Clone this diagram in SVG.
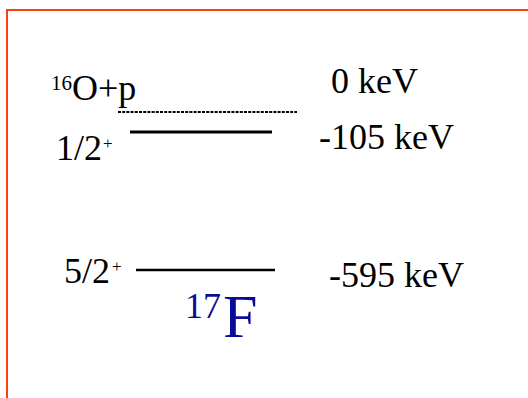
<svg xmlns="http://www.w3.org/2000/svg" width="528" height="398" viewBox="0 0 528 398" font-family="'Liberation Serif', 'Times New Roman', serif">
<style>
text{font-family:'Liberation Serif','Times New Roman',serif;fill:#000;font-size:36px}
.sup{font-size:21px}
.sm{font-size:17px}
.blue{fill:#0b0b99}
.lvl{stroke:#000;fill:none}
</style>
<rect x="0" y="0" width="528" height="398" fill="#fff"/>
<path d="M7,398 V10 H528" fill="none" stroke="#ff3d0d" stroke-width="2"/>
<g id="connectors">
<line class="lvl" x1="118" y1="112" x2="297" y2="112" stroke-width="2" stroke-dasharray="3 1.2"/>
<line class="lvl" x1="130" y1="132" x2="272" y2="132" stroke-width="3"/>
<line class="lvl" x1="136" y1="270" x2="275" y2="270" stroke-width="2.4"/>
</g>
<g id="threshold">
<text class="sup" x="51" y="90">16</text>
<text x="72" y="100">O+p</text>
<text x="331" y="93">0 keV</text>
</g>
<g id="level-half">
<text x="56" y="160">1/2</text>
<text class="sm" x="103" y="149">+</text>
<text x="319" y="149">-105 keV</text>
</g>
<g id="level-five-half">
<text x="64" y="283">5/2</text>
<text class="sm" x="112" y="272">+</text>
<text x="329" y="287">-595 keV</text>
</g>
<g id="nucleus">
<text class="blue" x="185" y="318">17</text>
<text class="blue" x="223" y="337" style="font-size:62px">F</text>
</g>
</svg>
